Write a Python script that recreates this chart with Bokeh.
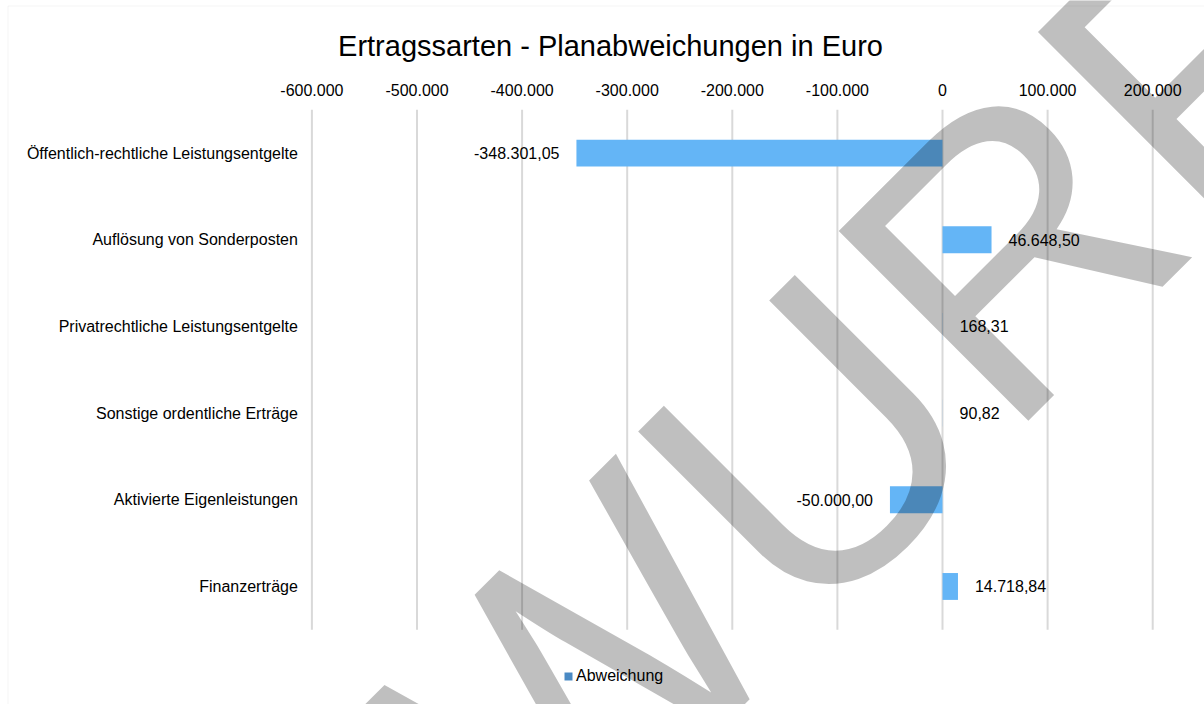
from bokeh.plotting import figure
from bokeh.models import (Range1d, FixedTicker, ColumnDataSource,
                          Label, Legend, LegendItem, BoxAnnotation)
from bokeh.core.properties import value, field
from bokeh.embed import file_html
from bokeh.resources import INLINE

FONT = "Liberation Sans"

# ---- data ----
categories = [
    "Öffentlich-rechtliche Leistungsentgelte",
    "Auflösung von Sonderposten",
    "Privatrechtliche Leistungsentgelte",
    "Sonstige ordentliche Erträge",
    "Aktivierte Eigenleistungen",
    "Finanzerträge",
]
abweichung = [-348301.05, 46648.50, 168.31, 90.82, -50000.00, 14718.84]
tick_values = [-600000, -500000, -400000, -300000, -200000, -100000, 0, 100000, 200000]
tick_labels = ["-600.000", "-500.000", "-400.000", "-300.000", "-200.000",
               "-100.000", "0", "100.000", "200.000"]
title_text = "Ertragssarten - Planabweichungen in Euro"
series_name = "Abweichung"
watermark_text = "ENTWURF"

# ---- layout constants (pixels) ----
CANVAS_W, CANVAS_H = 1204, 704
ZERO_PX = 942.0            # x pixel of value 0
PX_PER_UNIT = 105.1 / 100000
AREA_TOP, AREA_BOTTOM = 109.3, 629.3   # plot area (pixels from top)

n = len(categories)
positions = [n - 1 - i for i in range(n)]          # first category on top
px_per_cat = (AREA_BOTTOM - AREA_TOP) / n
y_lo = -0.5 - (CANVAS_H - AREA_BOTTOM) / px_per_cat
y_hi = n - 0.5 + AREA_TOP / px_per_cat
x_lo = (0 - ZERO_PX) / PX_PER_UNIT
x_hi = (CANVAS_W - ZERO_PX) / PX_PER_UNIT


def de_format(v):
    s = f"{v:,.2f}"
    return s.replace(",", "#").replace(".", ",").replace("#", ".")


src = ColumnDataSource(dict(
    pos=positions,
    val=abweichung,
    label=[de_format(v) for v in abweichung],
    align=["right" if v < 0 else "left" for v in abweichung],
    xoff=[-17 if v < 0 else 17 for v in abweichung],
))

p = figure(width=CANVAS_W, height=CANVAS_H,
           x_range=Range1d(x_lo, x_hi), y_range=Range1d(y_lo, y_hi),
           x_axis_location="above",
           output_backend="svg", toolbar_location=None,
           min_border=0, min_border_left=0, min_border_right=0,
           min_border_top=0, min_border_bottom=0)
p.outline_line_color = None
p.background_fill_color = "white"
p.border_fill_color = "white"
p.xgrid.visible = False
p.ygrid.visible = False

# chart border (left and top edges visible)
p.add_layout(BoxAnnotation(left=7.5, right=CANVAS_W + 20,
                           top=CANVAS_H - 5.5, bottom=-20,
                           left_units="screen", right_units="screen",
                           top_units="screen", bottom_units="screen",
                           fill_color=None, fill_alpha=0,
                           line_color="#d9d9d9", line_width=1, level="underlay"))

# axes (drawn at the edges of the plot area)
p.xaxis.ticker = FixedTicker(ticks=tick_values)
p.xaxis.major_label_overrides = dict(zip(tick_values, tick_labels))
p.xaxis.fixed_location = n - 0.5
p.yaxis.ticker = FixedTicker(ticks=positions)
p.yaxis.major_label_overrides = dict(zip(positions, categories))
p.yaxis.fixed_location = tick_values[0]
for ax in (p.xaxis, p.yaxis):
    ax.axis_line_color = None
    ax.major_tick_line_color = None
    ax.minor_tick_line_color = None
    ax.major_tick_out = 0
    ax.major_tick_in = 0
    ax.minor_tick_out = 0
    ax.minor_tick_in = 0
    ax.major_label_text_font = FONT
    ax.major_label_text_font_size = "16px"
    ax.major_label_text_color = "black"
p.xaxis.major_label_standoff = 14
p.yaxis.major_label_standoff = 14

# vertical gridlines over the plot area
p.segment(x0=tick_values, x1=tick_values,
          y0=[-0.5] * len(tick_values), y1=[n - 0.5] * len(tick_values),
          line_color="#d9d9d9", line_width=2)

# bars
p.hbar(y="pos", left=0, right="val", height=0.31, source=src,
       fill_color="#64b5f6", line_color=None)

# data labels
p.text(x="val", y="pos", text="label", source=src,
       text_align=field("align"), x_offset=field("xoff"),
       text_baseline="middle", text_font=value(FONT),
       text_font_size="16px", text_color="black")

# legend (swatch in the series' legend colour)
swatch = p.hbar(y=[positions[0]], left=[0], right=[0], height=0.3,
                fill_color="#4a8ac4", line_color=None)
legend = Legend(items=[LegendItem(label=series_name, renderers=[swatch])],
                location=(563, 19.4), orientation="horizontal",
                glyph_width=10, glyph_height=10, label_standoff=3,
                padding=0, margin=0, spacing=0,
                border_line_color=None, background_fill_alpha=0,
                label_text_font=FONT, label_text_font_size="16px",
                label_text_color="black", label_height=18)
p.add_layout(legend)

# title
p.add_layout(Label(x=610, y=CANVAS_H - 45, x_units="screen", y_units="screen",
                   text=title_text, text_align="center", text_baseline="alphabetic",
                   text_font=FONT, text_font_size="29px", text_color="black"))

# watermark
p.add_layout(Label(x=588, y=CANVAS_H - 669, x_units="screen", y_units="screen",
                   text=watermark_text, angle=0.785, text_align="center",
                   text_baseline="alphabetic", text_font=FONT,
                   text_font_size="390px", text_color="black", text_alpha=0.25))

open("out.html", "w").write(file_html(p, INLINE))
